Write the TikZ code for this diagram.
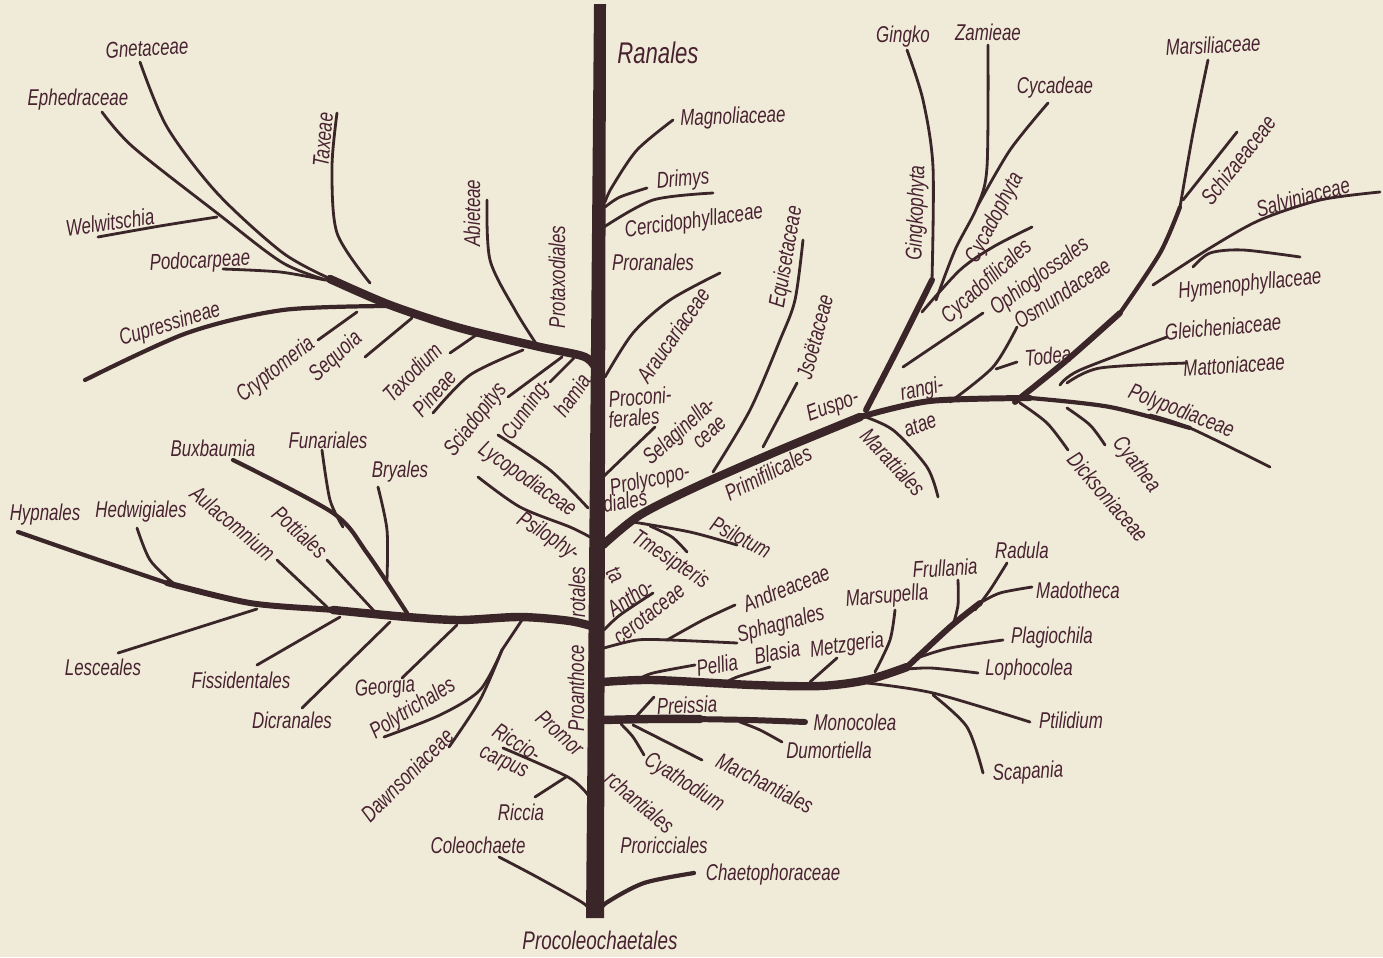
\documentclass[tikz,border=0pt]{standalone}
\usepackage{fontspec}
\setmainfont{Liberation Sans}[FakeStretch=0.74]
\usepackage{xcolor}
\definecolor{paper}{RGB}{240,235,217}
\definecolor{wood}{RGB}{58,38,40}
\definecolor{ink}{RGB}{72,34,48}
\usetikzlibrary{positioning}

\begin{document}
\begin{tikzpicture}[x=0.02cm,y=-0.02cm,
twig/.style={draw=wood,line width=1.6pt,line cap=round},
sprig/.style={draw=wood,line width=2.4pt,line cap=round},
limb/.style={draw=wood,line width=3.4pt,line cap=round},
bough/.style={draw=wood,line width=4.8pt,line cap=round},
lbl/.style={font=\fontsize{13}{13}\selectfont\itshape,text=ink,inner sep=0pt},
biglbl/.style={lbl,font=\fontsize{17}{17}\selectfont\itshape}]
\fill[paper] (0,0) rectangle (1383,957);
\useasboundingbox (0,0) rectangle (1383,957);
% trunk
\fill[wood] (594,4) -- (606,4) -- (604,918) -- (586,918) -- cycle;
% gymnosperms, left
\draw[bough] plot[smooth] coordinates {(598,372) (585,357) (540,347) (460,328) (390,305) (330,279)};
\draw[twig] plot[smooth] coordinates {(140,62) (167,127) (217,193) (283,253) (333,280)};
\draw[twig] plot[smooth] coordinates {(102,112) (133,147) (217,213) (283,263) (333,282)};
\draw[twig] plot[smooth] coordinates {(98,237) (160,226) (217,217)};
\draw[twig] plot[smooth] coordinates {(223,269) (280,272) (325,280)};
\draw[twig] plot[smooth] coordinates {(337,113) (332,167) (337,233) (370,283)};
\draw[sprig] plot[smooth] coordinates {(85,380) (187,333) (283,310) (390,306)};
\draw[twig] (318,340) -- (357,312);
\draw[twig] (365,357) -- (412,318);
\draw[twig] (450,353) -- (482,331);
\draw[twig] plot[smooth] coordinates {(433,413) (470,375) (523,350)};
\draw[twig] (508,397) -- (562,357);
\draw[twig] (550,382) -- (574,358);
\draw[twig] plot[smooth] coordinates {(487,200) (490,260) (515,310) (537,345)};
\node[lbl,rotate=3] (gnet) at (147,48) {Gnetaceae};
\node[lbl] (ephe) at (78,100) {Ephedraceae};
\node[lbl,rotate=85] (taxe) at (323,140) {Taxeae};
\node[lbl,rotate=8] (welw) at (110,222) {Welwitschia};
\node[lbl,rotate=3] (podo) at (200,262) {Podocarpeae};
\node[lbl,rotate=17] (cupr) at (170,325) {Cupressineae};
\node[lbl,rotate=38] (cryp) at (276,370) {Cryptomeria};
\node[lbl,rotate=42] (sequ) at (336,357) {Sequoia};
\node[lbl,rotate=45] (taxo) at (412,372) {Taxodium};
\node[lbl,rotate=48] (pine) at (434,393) {Pineae};
\node[lbl,rotate=52] (scia) at (476,420) {Sciadopitys};
\node[lbl,rotate=55] (cunn1) at (527,410) {Cunning-};
\node[lbl,rotate=55] (cunn2) at (572,395) {hamia};
\node[lbl,rotate=90] (abie) at (472,213) {Abieteae};
\node[lbl,rotate=90] (prot) at (557,277) {Protaxodiales};
% angiosperm roots, right
\draw[twig] plot[smooth] coordinates {(673,120) (637,150) (612,187) (605,202)};
\draw[twig] plot[smooth] coordinates {(647,188) (620,197) (605,207)};
\draw[twig] plot[smooth] coordinates {(713,193) (653,200) (604,227)};
\draw[twig] plot[smooth] coordinates {(720,273) (670,300) (633,333) (605,377)};
\draw[twig] (655,427) -- (603,477);
\node[biglbl] (rana) at (658,53) {Ranales};
\node[lbl,rotate=2] (magn) at (733,118) {Magnoliaceae};
\node[lbl,rotate=5] (drim) at (683,180) {Drimys};
\node[lbl,rotate=8] (cerc) at (694,222) {Cercidophyllaceae};
\node[lbl] (pror) at (653,262) {Proranales};
\node[lbl,rotate=55] (arau) at (673,335) {Araucariaceae};
\node[lbl,rotate=5] (proc1) at (640,397) {Proconi-};
\node[lbl,rotate=5] (proc2) at (634,418) {ferales};
\node[lbl,rotate=42] (sela1) at (680,432) {Selaginella-};
\node[lbl,rotate=42] (sela2) at (710,433) {ceae};
\node[lbl,rotate=12] (prol1) at (650,481) {Prolycopo-};
\node[lbl,rotate=10] (prol2) at (625,501) {diales};
% pteridophytes
\draw[bough] plot[smooth] coordinates {(603,545) (640,515) (700,485) (780,450) (860,417)};
\draw[limb] plot[smooth] coordinates {(860,417) (930,401) (1030,398)};
\draw[sprig] plot[smooth] coordinates {(1030,398) (1110,407) (1190,428)};
\draw[twig] plot[smooth] coordinates {(1150,415) (1190,428) (1270,467)};
\draw[twig] plot[smooth] coordinates {(803,240) (795,300) (780,340) (750,410) (713,472)};
\draw[twig] (797,383) -- (763,447);
\draw[twig] plot[smooth] coordinates {(633,522) (690,532) (737,545)};
\draw[twig] plot[smooth] coordinates {(650,526) (672,537) (687,552)};
\draw[twig] plot[smooth] coordinates {(860,415) (893,430) (927,467) (938,497)};
\draw[limb] plot[smooth] coordinates {(866,410) (897,350) (932,280)};
\draw[twig] plot[smooth] coordinates {(932,280) (933,167) (923,100) (907,50)};
\draw[twig] plot[smooth] coordinates {(936,300) (955,250) (977,207) (987,167) (988,45)};
\draw[twig] plot[smooth] coordinates {(1048,103) (1010,150) (977,207)};
\draw[twig] plot[smooth] coordinates {(1032,227) (993,247) (960,270) (922,312)};
\draw[twig] (983,313) -- (903,367);
\draw[twig] plot[smooth] coordinates {(1017,327) (993,367) (950,402)};
\draw[twig] (1017,362) -- (996,369);
\draw[limb] plot[smooth] coordinates {(1015,402) (1067,360) (1120,313)};
\draw[sprig] plot[smooth] coordinates {(1120,313) (1160,253) (1180,207)};
\draw[twig] plot[smooth] coordinates {(1180,207) (1193,133) (1208,60)};
\draw[twig] (1237,132) -- (1183,200);
\draw[twig] plot[smooth] coordinates {(1380,192) (1320,200) (1260,220) (1210,248) (1153,285)};
\draw[twig] plot[smooth] coordinates {(1300,257) (1243,250) (1210,253) (1193,267)};
\draw[twig] plot[smooth] coordinates {(1167,337) (1080,370) (1060,385)};
\draw[twig] plot[smooth] coordinates {(1187,363) (1100,368) (1067,383)};
\draw[twig] plot[smooth] coordinates {(1020,403) (1047,423) (1068,450)};
\draw[twig] plot[smooth] coordinates {(1067,408) (1090,425) (1105,445)};
\draw[twig] plot[smooth] coordinates {(498,435) (550,470) (588,508)};
\draw[twig] plot[smooth] coordinates {(478,477) (520,507) (570,527) (590,537)};
\node[lbl,rotate=80] (equi) at (787,257) {Equisetaceae};
\node[lbl,rotate=75] (isoe) at (815,337) {Jsoëtaceae};
\node[lbl,rotate=27] (prim) at (768,473) {Primifilicales};
\node[lbl,rotate=20] (eusp1) at (833,407) {Euspo-};
\node[lbl,rotate=12] (eusp2) at (922,390) {rangi-};
\node[lbl,rotate=20] (eusp3) at (920,425) {atae};
\node[lbl,rotate=-47] (mara) at (893,462) {Marattiales};
\node[lbl] (ging) at (903,37) {Gingko};
\node[lbl] (zami) at (988,32) {Zamieae};
\node[lbl] (cyca) at (1055,88) {Cycadeae};
\node[lbl,rotate=88] (gingph) at (917,213) {Gingkophyta};
\node[lbl,rotate=62] (cycph) at (995,218) {Cycadophyta};
\node[lbl,rotate=42] (cycfil) at (987,282) {Cycadofilicales};
\node[lbl,rotate=36] (ophi) at (1040,277) {Ophioglossales};
\node[lbl,rotate=33] (osmu) at (1062,293) {Osmundaceae};
\node[lbl,rotate=5] (todea) at (1048,356) {Todea};
\node[lbl,rotate=3] (marsil) at (1213,45) {Marsiliaceae};
\node[lbl,rotate=52] (schi) at (1238,160) {Schizaeaceae};
\node[lbl,rotate=15] (salv) at (1303,197) {Salviniaceae};
\node[lbl,rotate=6] (hyme) at (1250,285) {Hymenophyllaceae};
\node[lbl,rotate=5] (glei) at (1223,327) {Gleicheniaceae};
\node[lbl,rotate=4] (matt) at (1234,365) {Mattoniaceae};
\node[lbl,rotate=-21] (polyp) at (1181,412) {Polypodiaceae};
\node[lbl,rotate=-52] (cyat) at (1136,465) {Cyathea};
\node[lbl,rotate=-49] (dick) at (1108,497) {Dicksoniaceae};
\node[lbl,rotate=-35] (lyco) at (527,480) {Lycopodiaceae};
\node[lbl,rotate=-33] (psil1) at (548,537) {Psilophy-};
\node[lbl,rotate=-60] (psil2) at (615,575) {ta};
\node[lbl,rotate=-28] (psilo) at (741,537) {Psilotum};
\node[lbl,rotate=-33] (tmes) at (670,560) {Tmesipteris};
% mosses, left
\draw[bough] plot[smooth] coordinates {(598,628) (570,621) (520,617) (460,620) (407,617) (333,610)};
\draw[limb] plot[smooth] coordinates {(407,617) (333,610) (250,603) (167,583)};
\draw[sprig] plot[smooth] coordinates {(180,587) (167,583) (90,557) (18,532)};
\draw[twig] plot[smooth] coordinates {(137,528) (150,560) (173,583)};
\draw[sprig] plot[smooth] coordinates {(233,460) (333,513) (367,553) (407,613)};
\draw[twig] plot[smooth] coordinates {(322,450) (330,500) (343,527)};
\draw[twig] plot[smooth] coordinates {(378,487) (387,530) (387,580)};
\draw[twig] (277,560) -- (327,607);
\draw[twig] (327,560) -- (375,612);
\draw[twig] (118,653) -- (257,609);
\draw[twig] (257,665) -- (340,617);
\draw[twig] (302,708) -- (390,622);
\draw[twig] (402,678) -- (457,625);
\draw[twig] (522,620) -- (502,650);
\draw[twig] plot[smooth] coordinates {(502,650) (480,690) (440,715) (384,737)};
\draw[twig] plot[smooth] coordinates {(502,650) (480,700) (449,747)};
\node[lbl] (hypn) at (45,515) {Hypnales};
\node[lbl] (hedw) at (141,512) {Hedwigiales};
\node[lbl] (buxb) at (213,448) {Buxbaumia};
\node[lbl] (funa) at (328,440) {Funariales};
\node[lbl] (brya) at (400,472) {Bryales};
\node[lbl,rotate=-40] (aula) at (233,523) {Aulacomnium};
\node[lbl,rotate=-42] (pott) at (300,532) {Pottiales};
\node[lbl] (lesc) at (103,667) {Lesceales};
\node[lbl] (fiss) at (241,680) {Fissidentales};
\node[lbl] (dicr) at (292,720) {Dicranales};
\node[lbl,rotate=5] (geor) at (385,688) {Georgia};
\node[lbl,rotate=32] (polyt) at (413,709) {Polytrichales};
\node[lbl,rotate=45] (daws) at (407,775) {Dawnsoniaceae};
\node[lbl,rotate=90] (proa2) at (577,592) {rotales};
\node[lbl,rotate=90] (proa1) at (576,688) {Proanthoce};
% hepatics, right
\draw[twig] plot[smooth] coordinates {(653,593) (620,615) (604,630)};
\draw[twig] plot[smooth] coordinates {(604,648) (637,640) (670,640) (737,643)};
\draw[twig] plot[smooth] coordinates {(735,605) (703,620) (667,640)};
\draw[bough] plot[smooth] coordinates {(603,682) (653,680) (753,685) (820,686) (867,680) (907,667)};
\draw[limb] plot[smooth] coordinates {(907,667) (950,627) (980,603)};
\draw[twig] plot[smooth] coordinates {(975,610) (990,590) (1007,563)};
\draw[twig] plot[smooth] coordinates {(695,665) (653,673) (637,680)};
\draw[twig] plot[smooth] coordinates {(770,667) (737,677) (723,684)};
\draw[twig] (837,658) -- (810,682);
\draw[twig] plot[smooth] coordinates {(895,610) (890,640) (875,672)};
\draw[twig] plot[smooth] coordinates {(958,580) (958,605) (953,625)};
\draw[twig] plot[smooth] coordinates {(1032,587) (1000,593) (980,603)};
\draw[twig] plot[smooth] coordinates {(1003,640) (950,648) (920,657)};
\draw[twig] plot[smooth] coordinates {(978,673) (930,668) (897,670)};
\draw[twig] plot[smooth] coordinates {(867,683) (933,693) (1030,722)};
\draw[twig] plot[smooth] coordinates {(933,695) (967,727) (983,773)};
\draw[bough] plot[smooth] coordinates {(603,720) (650,719) (700,719)};
\draw[limb] plot[smooth] coordinates {(690,719) (750,720) (805,722)};
\draw[twig] (654,697) -- (633,720);
\draw[twig] plot[smooth] coordinates {(782,742) (760,730) (740,722)};
\draw[twig] (702,760) -- (633,725);
\draw[twig] plot[smooth] coordinates {(644,755) (633,737) (621,724)};
\draw[twig] plot[smooth] coordinates {(503,748) (568,777) (588,795)};
\draw[twig] (535,797) -- (566,777);
\draw[twig] plot[smooth] coordinates {(499,857) (537,877) (583,903) (590,912)};
\draw[sprig] plot[smooth] coordinates {(694,873) (644,883) (606,903) (600,912)};
\node[lbl,rotate=34] (anth1) at (630,597) {Antho-};
\node[lbl,rotate=38] (anth2) at (649,614) {cerotaceae};
\node[lbl,rotate=22] (andr) at (786,588) {Andreaceae};
\node[lbl,rotate=15] (spha) at (781,625) {Sphagnales};
\node[lbl,rotate=10] (pell) at (717,665) {Pellia};
\node[lbl,rotate=10] (blas) at (777,652) {Blasia};
\node[lbl,rotate=8] (metz) at (847,646) {Metzgeria};
\node[lbl,rotate=5] (marsu) at (887,597) {Marsupella};
\node[lbl,rotate=3] (frul) at (945,568) {Frullania};
\node[lbl] (radu) at (1022,550) {Radula};
\node[lbl] (mado) at (1078,590) {Madotheca};
\node[lbl] (plag) at (1052,638) {Plagiochila};
\node[lbl] (loph) at (1029,670) {Lophocolea};
\node[lbl] (ptil) at (1071,720) {Ptilidium};
\node[lbl,rotate=3] (scap) at (1028,773) {Scapania};
\node[lbl] (mono) at (855,722) {Monocolea};
\node[lbl] (dumo) at (829,750) {Dumortiella};
\node[lbl,rotate=-27] (marc) at (765,783) {Marchantiales};
\node[lbl,rotate=-33] (cyath) at (684,783) {Cyathodium};
\node[lbl,rotate=3] (prei) at (687,705) {Preissia};
\node[lbl,rotate=-42] (prom1) at (560,733) {Promor};
\node[lbl,rotate=-40] (prom2) at (640,802) {rchantiales};
\node[lbl,rotate=-32] (ricc1) at (517,742) {Riccio-};
\node[lbl,rotate=-25] (ricc2) at (503,764) {carpus};
\node[lbl] (ricc) at (521,812) {Riccia};
\node[lbl] (cole) at (478,845) {Coleochaete};
\node[lbl] (prori) at (664,845) {Proricciales};
\node[lbl] (chae) at (773,875) {Chaetophoraceae};
\node[lbl,font=\fontsize{14.5}{14.5}\selectfont\itshape] (proco) at (600,940) {Procoleochaetales};
\end{tikzpicture}
\end{document}
